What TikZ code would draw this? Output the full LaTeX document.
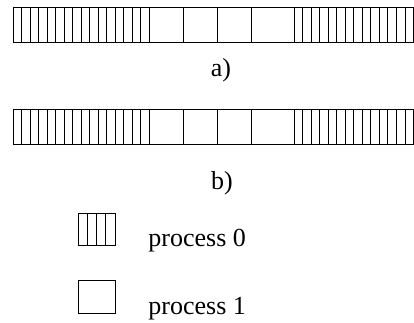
\documentclass[tikz,border=0pt]{standalone}
\usepackage{fontspec}
\setmainfont{Liberation Serif}
\begin{document}
\begin{tikzpicture}[x=1pt,y=-1pt, line width=0.8pt, lbl/.style={font=\fontsize{26}{30}\selectfont, inner sep=0pt}]
\useasboundingbox (0,0) rectangle (414,322);
\clip (0,0) rectangle (414,322);
\def\cw{34.08}
\foreach \y in {7,109.5} {
  \draw (13,\y) rectangle (13+12*\cw,\y+35);
  \foreach \i in {1,...,15} \draw (13+\i*\cw/4,\y) -- ++(0,35);
  \foreach \i in {0,...,3} \draw (13+4*\cw+\i*\cw,\y) -- ++(0,35);
  \foreach \i in {1,...,16} \draw (13+8*\cw+\i*\cw/4,\y) -- ++(0,35);
}
\node[lbl] (la) at (221,70) {a)};
\node[lbl] (lb) at (222,183) {b)};
% legend
\draw (78,213) rectangle (115,245);
\foreach \i in {1,2,3} \draw (78+\i*37/4,213) -- (78+\i*37/4,245);
\draw (78,280) rectangle (115,313);
\node[lbl, anchor=base west] (p0) at (148,246.5) {process 0};
\node[lbl, anchor=base west] (p1) at (148,314) {process 1};
\end{tikzpicture}
\end{document}
